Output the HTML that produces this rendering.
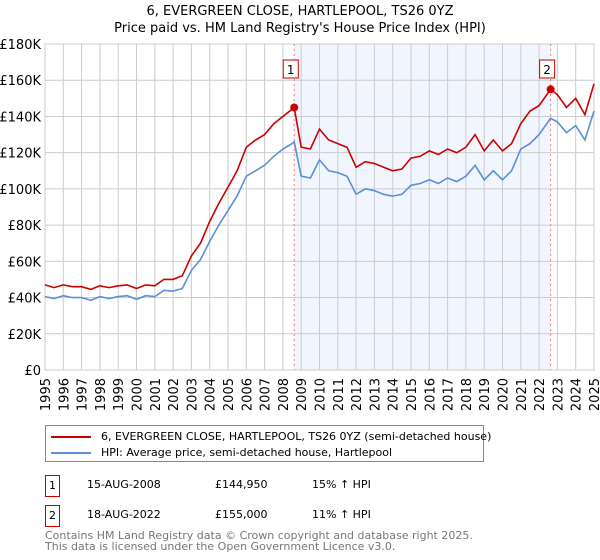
<!DOCTYPE html>
<html><head><meta charset="utf-8"><style>
body{margin:0;background:#fff;font-family:"Liberation Sans","DejaVu Sans",sans-serif;}
#wrap{position:relative;width:600px;height:560px;overflow:hidden}
.nw{white-space:nowrap}
</style></head><body><div id="wrap">
<svg id="svg" width="600" height="560" xmlns="http://www.w3.org/2000/svg" font-family="DejaVu Sans, Liberation Sans, sans-serif"></svg>
</div>
<script>
const hpiYears=[1995,1995.5,1996,1996.5,1997,1997.5,1998,1998.5,1999,1999.5,2000,2000.5,2001,2001.5,2002,2002.5,2003,2003.5,2004,2004.5,2005,2005.5,2006,2006.5,2007,2007.5,2008,2008.5,2008.62,2009,2009.5,2010,2010.5,2011,2011.5,2012,2012.5,2013,2013.5,2014,2014.5,2015,2015.5,2016,2016.5,2017,2017.5,2018,2018.5,2019,2019.5,2020,2020.5,2021,2021.5,2022,2022.63,2023,2023.5,2024,2024.5,2025];
const hpiValues=[40.5,39.5,41,40,40,38.5,40.5,39.5,40.5,41,39,41,40.5,44,43.5,45,55,61,71,80,88,96,107,110,113,118,122,125,126,107,106,116,110,109,107,97,100,99,97,96,97,102,103,105,103,106,104,107,113,105,110,105,110,122,125,130,139,137,131,135,127,143];
const priceValues=[47,45.5,47,46,46,44.5,46.5,45.5,46.5,47,45,47,46.5,50,50,52,63,70,82,92,101,110,123,127,130,136,140,144,144.95,123,122,133,127,125,123,112,115,114,112,110,111,117,118,121,119,122,120,123,130,121,127,121,125,136,143,146,155,152,145,150,141,158];
const yTicks=[0,20,40,60,80,100,120,140,160,180];
const yearTicks=[1995,1996,1997,1998,1999,2000,2001,2002,2003,2004,2005,2006,2007,2008,2009,2010,2011,2012,2013,2014,2015,2016,2017,2018,2019,2020,2021,2022,2023,2024,2025];
const sales=[{n:"1",t:2008.62,v:144.95},{n:"2",t:2022.63,v:155}];
const L=45,R=594,T=44,B=370;
const x=t=>L+(t-1995)/30*(R-L);
const y=v=>B-v/180*(B-T);
const svg=document.getElementById('svg');
const NS='http://www.w3.org/2000/svg';
function mk(tag,attrs,parent){const e=document.createElementNS(NS,tag);for(const k in attrs)e.setAttribute(k,attrs[k]);(parent||svg).appendChild(e);return e;}
const sh=mk('rect',{x:x(sales[0].t),y:T,width:x(sales[1].t)-x(sales[0].t),height:B-T,fill:'#eef3fc',opacity:0.8});


yTicks.forEach(v=>{const g=mk('line',{x1:L,x2:R,y1:y(v),y2:y(v),stroke:'#ccc','stroke-width':1});


const t=mk('text',{x:L-4,y:y(v)+5,'text-anchor':'end','font-size':13,fill:'#000'});t.textContent=v===0?'£0':'£'+v+'K';

});
yearTicks.forEach(yr=>{const g=mk('line',{x1:x(yr),x2:x(yr),y1:T,y2:B,stroke:'#ccc','stroke-width':1});


const t=mk('text',{x:0,y:0,'text-anchor':'end','font-size':13,fill:'#000',transform:`translate(${x(yr)+5},${B+8}) rotate(-90)`});t.textContent=yr;

});
const fr=mk('rect',{x:L,y:T,width:R-L,height:B-T,fill:'none',stroke:'#ccc'});


sales.forEach(s=>{const l=mk('line',{x1:x(s.t),x2:x(s.t),y1:T,y2:B,stroke:'#f08080','stroke-dasharray':'2,3'});

});
function path(vals,color,name){const d=vals.map((v,i)=>(i?'L':'M')+x(hpiYears[i]).toFixed(1)+','+y(v).toFixed(1)).join('');
const p=mk('path',{d:d,fill:'none',stroke:color,'stroke-width':1.6});

}
path(hpiValues,'#5b8fd6','hpi-line');
path(priceValues,'#cc0000','price-line');
sales.forEach(s=>{const c=mk('circle',{cx:x(s.t),cy:y(s.v),r:4,fill:'#cc0000'});


const b=mk('rect',{x:x(s.t)-11,y:60,width:15,height:18,fill:'#fff',stroke:'#cc0000'});


const t=mk('text',{x:x(s.t)-3.5,y:74,'text-anchor':'middle','font-size':12});t.textContent=s.n;

});
</script>
<div style="position:absolute;left:0;top:3px;width:600px;text-align:center;font-family:'DejaVu Sans',sans-serif;font-size:13px;line-height:17px">6, EVERGREEN CLOSE, HARTLEPOOL, TS26 0YZ<br>Price paid vs. HM Land Registry's House Price Index (HPI)</div>
<div style="position:absolute;left:45px;top:425px;width:437px;height:35px;border:1px solid #888;font-family:'DejaVu Sans',sans-serif;font-size:11px">
<div class="nw" style="position:absolute;left:5px;top:4px"><span style="display:inline-block;width:40px;height:2px;background:#cc0000;vertical-align:middle;margin-right:10px"></span>6, EVERGREEN CLOSE, HARTLEPOOL, TS26 0YZ (semi-detached house)</div>
<div class="nw" style="position:absolute;left:5px;top:20px"><span style="display:inline-block;width:40px;height:2px;background:#5b8fd6;vertical-align:middle;margin-right:10px"></span>HPI: Average price, semi-detached house, Hartlepool</div>
</div>
<div style="position:absolute;left:0;top:0;width:600px;height:560px;font-family:'DejaVu Sans',sans-serif;font-size:11px">
<div>
<div style="position:absolute;left:45px;top:475px;width:13px;height:20px;border:1px solid #cc0000;text-align:center;line-height:20px">1</div>
<div class="nw" style="position:absolute;left:87px;top:478px">15-AUG-2008</div>
<div class="nw" style="position:absolute;left:215px;top:478px">£144,950</div>
<div class="nw" style="position:absolute;left:312px;top:478px">15% ↑ HPI</div></div>
<div>
<div style="position:absolute;left:45px;top:505px;width:13px;height:20px;border:1px solid #cc0000;text-align:center;line-height:20px">2</div>
<div class="nw" style="position:absolute;left:87px;top:508px">18-AUG-2022</div>
<div class="nw" style="position:absolute;left:215px;top:508px">£155,000</div>
<div class="nw" style="position:absolute;left:312px;top:508px">11% ↑ HPI</div></div>
</div>
<div class="nw" style="position:absolute;left:45px;top:530px;font-family:'DejaVu Sans',sans-serif;font-size:11px;line-height:11px;color:#777">Contains HM Land Registry data © Crown copyright and database right 2025.<br>This data is licensed under the Open Government Licence v3.0.</div>
</body></html>
